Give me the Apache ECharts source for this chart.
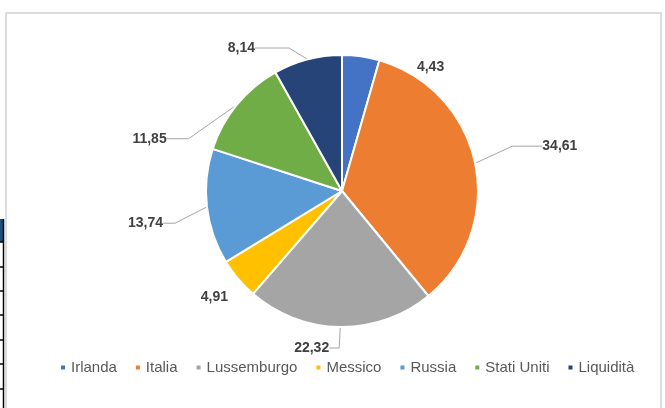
<!DOCTYPE html>
<html>
<head>
<meta charset="utf-8">
<script src="https://cdn.jsdelivr.net/npm/echarts@6/dist/echarts.min.js"></script>
<style>
  html, body { margin: 0; padding: 0; background: #ffffff; }
  #chart { width: 665px; height: 408px; }
</style>
</head>
<body>
<div id="chart"></div>
<script>
// Portfolio split by country (percent)
const categories = ['Irlanda', 'Italia', 'Lussemburgo', 'Messico', 'Russia', 'Stati Uniti', 'Liquidità'];
const values = [4.43, 34.61, 22.32, 4.91, 13.74, 11.85, 8.14];
const colors = ['#4472C4', '#ED7D31', '#A5A5A5', '#FFC000', '#5B9BD5', '#70AD47', '#264478'];

// leader line lengths per slice [first segment, second segment, show line]
const leaders = [
  [22, 30, false],
  [40, 30, true],
  [10, 10, true],
  [12, 4, false],
  [20, 12, true],
  [30, 22, true],
  [18, 34, true]
];
// label nudges per slice [dx, dy]
const nudges = [
  [20, 33],
  [-5, -9],
  [2, 11],
  [6, 10],
  [-9, 14],
  [-22, 53],
  [-11, 6]
];

const fmt = v => v.toFixed(2).replace('.', ',');

const chart = echarts.init(document.getElementById('chart'), null, { renderer: 'canvas' });

const pieData = categories.map((name, i) => ({
  name: name,
  value: values[i],
  itemStyle: { color: colors[i] },
  labelLine: { show: leaders[i][2], length: leaders[i][0], length2: leaders[i][1] }
}));

// table edge visible at the left margin
const tableRows = [242, 267, 291, 315, 340, 364, 389];
const tableGraphics = [
  { type: 'rect', shape: { x: 0, y: 219, width: 4, height: 23 }, style: { fill: '#1F4E79' } },
  { type: 'line', shape: { x1: 3.5, y1: 219, x2: 3.5, y2: 408 }, style: { stroke: '#000', lineWidth: 1.5 } }
].concat(tableRows.map(y => ({
  type: 'line', shape: { x1: 0, y1: y, x2: 4, y2: y }, style: { stroke: '#000', lineWidth: 1.5 }
})));

chart.setOption({
  animation: false,
  backgroundColor: '#ffffff',
  color: colors,
  graphic: [
    { type: 'rect', shape: { x: 6, y: 13, width: 655, height: 400 },
      style: { fill: 'none', stroke: '#dcdcdc', lineWidth: 2 } }
  ].concat(tableGraphics),
  legend: {
    bottom: 28,
    left: 54,
    icon: 'rect',
    itemWidth: 6,
    itemHeight: 6,
    itemGap: 17,
    textStyle: { color: '#595959', fontSize: 15, fontFamily: 'Liberation Sans, Arial, sans-serif' },
    data: categories
  },
  series: [{
    type: 'pie',
    center: [342, 191],
    radius: 136,
    startAngle: 90,
    clockwise: true,
    avoidLabelOverlap: false,
    itemStyle: { borderColor: '#ffffff', borderWidth: 2 },
    label: {
      show: true,
      position: 'outside',
      formatter: p => fmt(p.value),
      color: '#404040',
      fontSize: 14,
      fontWeight: 'bold',
      fontFamily: 'Liberation Sans, Arial, sans-serif',
      distanceToLabelLine: 3
    },
    labelLine: { lineStyle: { color: '#a6a6a6', width: 1 }, length2: 8 },
    // shift each label from its default spot and let the leader line follow
    labelLayout: p => {
      const r = p.labelRect;
      const n = nudges[p.dataIndex];
      return {
        x: r.x + r.width / 2 + n[0],
        y: r.y + r.height / 2 + n[1],
        align: 'center',
        verticalAlign: 'middle'
      };
    },
    emphasis: { disabled: true },
    data: pieData
  }]
});
</script>
</body>
</html>
